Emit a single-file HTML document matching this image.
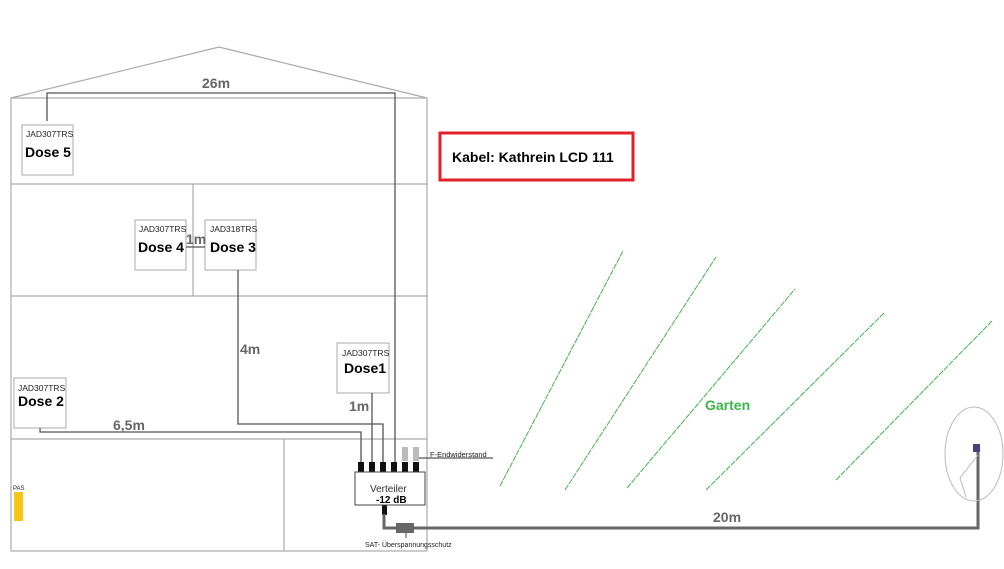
<!DOCTYPE html>
<html><head><meta charset="utf-8"><style>
html,body{margin:0;padding:0;background:#fff}
svg{display:block}
text{font-family:"Liberation Sans",sans-serif}
</style></head><body>
<svg width="1004" height="569" viewBox="0 0 1004 569" xmlns="http://www.w3.org/2000/svg">
<g fill="none" stroke="#aaa" stroke-width="1.2">
<polyline points="11,98 219,47 427,98"/>
<rect x="11" y="98" width="416" height="453"/>
<line x1="11" y1="184" x2="427" y2="184"/>
<line x1="11" y1="296" x2="427" y2="296"/>
<line x1="11" y1="439" x2="427" y2="439"/>
<line x1="193" y1="184" x2="193" y2="296"/>
<line x1="284" y1="439" x2="284" y2="551"/>
</g>
<g fill="#fff" stroke="#aaa" stroke-width="1">
<rect x="22" y="125" width="51" height="50"/>
<rect x="135" y="220" width="51" height="50"/>
<rect x="205" y="220" width="51" height="50"/>
<rect x="337" y="343" width="52" height="50"/>
<rect x="14" y="378" width="52" height="50"/>
</g>
<g fill="none" stroke="#555" stroke-width="1.3">
<polyline points="47,121 47,93 395,93 395,463"/>
<polyline points="238,270 238,424 383,424 383,463"/>
<line x1="372" y1="393" x2="372" y2="463"/>
<polyline points="40,428 40,432 361,432 361,463"/>
<line x1="186" y1="247" x2="205" y2="247"/>
<line x1="415" y1="458" x2="493" y2="458"/>
</g>
<g fill="#111">
<rect x="358" y="462" width="6" height="10"/>
<rect x="369" y="462" width="6" height="10"/>
<rect x="380" y="462" width="6" height="10"/>
<rect x="391" y="462" width="6" height="10"/>
<rect x="402" y="462" width="6" height="10"/>
<rect x="413" y="462" width="6" height="10"/>
<rect x="382" y="505" width="5" height="10"/>
</g>
<rect x="402" y="447" width="6" height="14" fill="#bbb"/>
<rect x="413" y="447" width="6" height="14" fill="#bbb"/>
<rect x="355" y="472" width="70" height="33" fill="#fff" stroke="#444"/>
<polyline points="384,514 384,528 978,528 978,450" fill="none" stroke="#666" stroke-width="3"/>
<rect x="396" y="523" width="18" height="10" fill="#666"/>
<line x1="406" y1="533" x2="406" y2="538" stroke="#444"/>
<ellipse cx="974" cy="454" rx="29" ry="47" fill="none" stroke="#bbb"/>
<polyline points="978,455 960,478 966,497" fill="none" stroke="#bbb"/>
<rect x="973" y="444" width="7" height="8" fill="#447"/>
<g stroke="#3cb44b" stroke-width="1" stroke-dasharray="6,1">
<line x1="500" y1="486" x2="623" y2="251"/>
<line x1="565" y1="490" x2="716" y2="257"/>
<line x1="627" y1="488" x2="795" y2="289"/>
<line x1="706" y1="490" x2="884" y2="313"/>
<line x1="836" y1="480" x2="992" y2="321"/>
</g>
<rect x="440" y="133" width="193" height="47" fill="none" stroke="#e2202a" stroke-width="3"/>
<text x="452" y="162" font-size="14" font-weight="bold" fill="#000">Kabel: Kathrein LCD 111</text>
<g font-size="14" font-weight="bold" fill="#666">
<text x="202" y="88">26m</text>
<text x="186" y="244">1m</text>
<text x="240" y="354">4m</text>
<text x="349" y="411">1m</text>
<text x="113" y="430">6,5m</text>
<text x="713" y="522">20m</text>
</g>
<text x="705" y="410" font-size="14" font-weight="bold" fill="#3cb44b">Garten</text>
<g font-size="8.5" fill="#222">
<text x="26" y="137">JAD307TRS</text>
<text x="139" y="232">JAD307TRS</text>
<text x="210" y="232">JAD318TRS</text>
<text x="342" y="356">JAD307TRS</text>
<text x="18" y="391">JAD307TRS</text>
</g>
<g font-size="14" font-weight="bold" fill="#000">
<text x="25" y="157">Dose 5</text>
<text x="138" y="252">Dose 4</text>
<text x="210" y="252">Dose 3</text>
<text x="344" y="373">Dose1</text>
<text x="18" y="406">Dose 2</text>
</g>
<text x="370" y="492" font-size="10" fill="#333">Verteiler</text>
<text x="376" y="503" font-size="10" font-weight="bold" fill="#000">-12 dB</text>
<text x="430" y="457" font-size="7.5" fill="#222">F-Endwiderstand</text>
<text x="365" y="547" font-size="7" fill="#222">SAT- Überspannungsschutz</text>
<text x="13" y="490" font-size="6" fill="#222">PAS</text>
<rect x="14" y="492" width="9" height="29" fill="#f5c518"/>
</svg>
</body></html>
